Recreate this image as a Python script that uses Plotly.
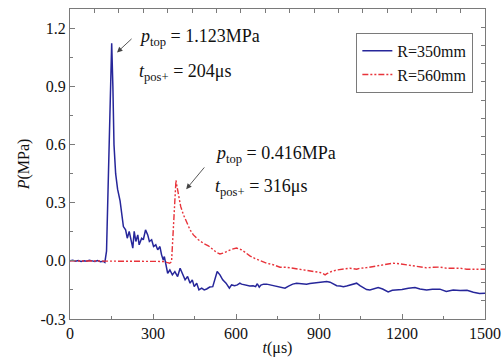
import plotly.graph_objects as go

# ---- data ----
t_350 = [0, 10, 20, 30, 40, 50, 60, 70, 80, 90, 100, 110, 120, 126, 132, 138, 144, 150.7, 155, 159,
         165, 172, 181, 187, 193, 201, 207, 214, 220, 227, 232, 238, 245, 250, 259, 265, 273, 281, 287,
         295, 302, 310, 317, 325, 331, 337, 341, 346, 353, 361, 370, 379, 389, 398, 406, 416, 425, 434,
         442, 449, 458, 466, 476, 485, 494, 505, 516, 524, 532, 542, 552, 564, 576, 584, 595, 605, 614,
         620, 635, 650, 662, 671, 677, 684, 690, 700, 711, 725, 740, 753, 765, 777, 790, 805, 819, 835,
         855, 867, 879, 892, 904, 916, 928, 940, 952, 964, 976, 988, 1000, 1012, 1024, 1036, 1048, 1060,
         1072, 1084, 1096, 1114, 1130, 1150, 1165, 1180, 1200, 1223, 1247, 1265, 1289, 1310, 1337, 1360,
         1385, 1410, 1435, 1458, 1480, 1500]
p_350 = [0, 0.003, -0.002, 0.002, -0.003, 0.001, -0.002, 0.003, 0, -0.003, 0.002, -0.004, -0.002, -0.008,
         0.05, 0.4, 0.85, 1.123, 0.9, 0.6,
         0.45, 0.37, 0.31, 0.24, 0.177, 0.16, 0.117, 0.152, 0.109, 0.066, 0.152, 0.1, 0.134, 0.083, 0.117,
         0.109, 0.16, 0.134, 0.1, 0.109, 0.074, 0.083, 0.057, 0.074, 0.031, 0.005, 0.022, -0.012, -0.064,
         -0.047, -0.072, -0.055, -0.081, -0.038, -0.064, -0.098, -0.081, -0.115, -0.098, -0.133, -0.115,
         -0.15, -0.141, -0.15, -0.145, -0.135, -0.133, -0.089, -0.055, -0.072, -0.098, -0.115, -0.141,
         -0.124, -0.128, -0.124, -0.115,
         -0.12, -0.125, -0.13, -0.128, -0.133, -0.118, -0.136, -0.125, -0.12, -0.12, -0.125, -0.13, -0.133,
         -0.138, -0.141, -0.13, -0.12, -0.115, -0.118,
         -0.12, -0.117, -0.115, -0.112, -0.11, -0.108, -0.107, -0.11, -0.12, -0.128, -0.13, -0.133, -0.13,
         -0.125, -0.12, -0.115, -0.128, -0.14,
         -0.148, -0.15, -0.145, -0.138, -0.145, -0.16, -0.152, -0.15, -0.148, -0.141, -0.138, -0.145, -0.15,
         -0.147, -0.146, -0.158,
         -0.15, -0.153, -0.152, -0.162, -0.168, -0.167]

t_560 = [0, 100, 200, 300, 340, 350, 360, 367, 372, 377, 383, 386, 391, 400, 410, 422, 434, 446, 464, 482,
         500, 518, 530, 542, 554, 566, 584, 602, 614, 620, 632, 650, 669, 687, 711, 735, 759, 783, 807,
         831, 855, 880, 904, 915, 922, 930, 945, 964, 988, 1012, 1036, 1048, 1072, 1096, 1120, 1145, 1168,
         1192, 1217, 1241, 1265, 1289, 1313, 1337, 1361, 1385, 1410, 1434, 1458, 1480, 1500]
p_560 = [0, 0, 0, 0, -0.003, -0.008, -0.012, -0.005, 0.12, 0.28, 0.416, 0.39, 0.35, 0.281, 0.238, 0.195,
         0.16, 0.134, 0.109, 0.091,
         0.078, 0.057, 0.043, 0.036, 0.04, 0.048, 0.06, 0.066, 0.06, 0.057, 0.045, 0.026, 0.012, 0.002,
         -0.012, -0.02, -0.033, -0.033, -0.038,
         -0.042, -0.05, -0.055, -0.06, -0.066, -0.072, -0.065, -0.055, -0.047, -0.042, -0.038, -0.043,
         -0.038, -0.035, -0.03, -0.022, -0.016, -0.012,
         -0.015, -0.02, -0.025, -0.033, -0.036, -0.033, -0.032, -0.038, -0.037, -0.038, -0.043, -0.042,
         -0.043, -0.043]

x_ticks = [0, 300, 600, 900, 1200, 1500]
y_ticks = [-0.3, 0.0, 0.3, 0.6, 0.9, 1.2]
y_tick_text = ["-0.3", "0.0", "0.3", "0.6", "0.9", "1.2"]

FONT = "Liberation Serif"
FRAME = "#7a7a7a"

fig = go.Figure()
fig.add_trace(go.Scatter(x=t_350, y=p_350, mode="lines", name="R=350mm",
                         line=dict(color="#26269a", width=1.5)))
fig.add_trace(go.Scatter(x=t_560, y=p_560, mode="lines", name="R=560mm",
                         line=dict(color="#e8333a", width=1.4, dash="6px,2px,2px,2px,2px,2px")))
# invisible trace to activate the top/right axes
fig.add_trace(go.Scatter(x=[0], y=[0], xaxis="x2", yaxis="y2", mode="markers",
                         marker=dict(opacity=0), showlegend=False, hoverinfo="skip"))

fig.update_layout(
    width=502, height=359,
    margin=dict(l=70, r=17, t=9, b=40),
    paper_bgcolor="white", plot_bgcolor="white",
    font=dict(family=FONT, size=16, color="#111"),
    showlegend=True,
    legend=dict(x=0.69, y=0.923, xanchor="left", yanchor="top",
                bgcolor="white", bordercolor=FRAME, borderwidth=1,
                font=dict(family=FONT, size=16), tracegroupgap=0, itemwidth=30),
    xaxis=dict(range=[0, 1500], tickvals=x_ticks, ticks="inside", ticklen=5, tickcolor=FRAME,
               showline=True, linecolor=FRAME, linewidth=1, showgrid=False, zeroline=False,
               automargin=False,
               minor=dict(dtick=150, ticks="inside", ticklen=3, tickcolor=FRAME),
               title=dict(text="<i>t</i>(μs)", standoff=0, font=dict(family=FONT, size=16))),
    yaxis=dict(range=[-0.3, 1.3], tickvals=y_ticks, ticktext=y_tick_text, ticks="inside", ticklen=5,
               tickcolor=FRAME, showline=True, linecolor=FRAME, linewidth=1, showgrid=False,
               zeroline=False, automargin=False,
               minor=dict(dtick=0.15, tick0=-0.3, ticks="inside", ticklen=3, tickcolor=FRAME),
               title=dict(text="<i>P</i>(MPa)", standoff=6, font=dict(family=FONT, size=16))),
    xaxis2=dict(overlaying="x", side="top", range=[0, 17], dtick=1, ticks="inside", ticklen=4,
                tickcolor=FRAME, showticklabels=False, showline=True, linecolor=FRAME,
                showgrid=False, zeroline=False, automargin=False),
    yaxis2=dict(overlaying="y", side="right", range=[0, 17], dtick=1, ticks="inside", ticklen=4,
                tickcolor=FRAME, showticklabels=False, showline=True, linecolor=FRAME,
                showgrid=False, zeroline=False, automargin=False),
)

ann_font = dict(family=FONT, size=18, color="#111")
texts = [
    ("<i>p</i><sub>top</sub> = 1.123MPa", 0.161, 0.907),
    ("<i>t</i><sub>pos+</sub> = 204μs", 0.161, 0.795),
    ("<i>p</i><sub>top</sub> = 0.416MPa", 0.345, 0.532),
    ("<i>t</i><sub>pos+</sub> = 316μs", 0.345, 0.423),
]
for txt, xp, yp in texts:
    fig.add_annotation(text=txt, x=xp, y=yp, xref="paper", yref="paper", showarrow=False,
                       xanchor="left", yanchor="middle", font=ann_font)

arrows = [((170, 1.076), (228, 1.153)), ((420, 0.37), (490, 0.49))]
for (hx, hy), (tx, ty) in arrows:
    fig.add_annotation(x=hx, y=hy, ax=tx, ay=ty, xref="x", yref="y", axref="x", ayref="y",
                       text="", showarrow=True, arrowhead=2, arrowsize=1.2, arrowwidth=0.9,
                       arrowcolor="#444", standoff=0)

fig.write_html("out.html")
